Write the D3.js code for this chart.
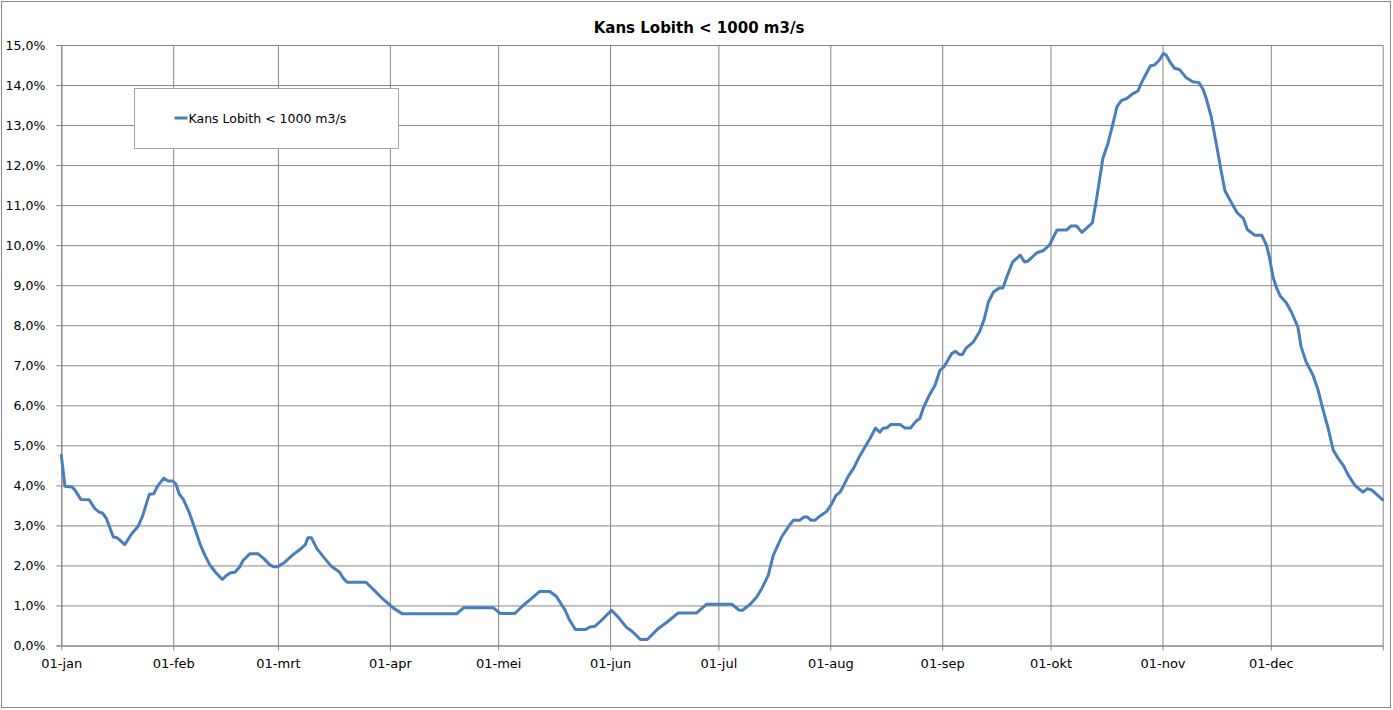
<!DOCTYPE html>
<html>
<head>
<meta charset="utf-8">
<script src="https://cdn.jsdelivr.net/npm/d3@7"></script>
<style>
  body { margin: 0; background: #fff; }
  text { font-family: "DejaVu Sans", sans-serif; fill: #000; }
</style>
</head>
<body>
<div id="chart"></div>
<script>
// Dag van het jaar (0 = 1 januari, schrikkeljaar) en kans in procent,
// afgelezen uit de grafiek.
const dagen = [
  0, 1, 3, 3.8, 5.4, 7.7, 9.3, 10.5, 11.4, 12.5, 14.4, 15.5, 17.6, 19.5, 21.3, 22.5,
  24.4, 25.6, 26.8, 28.4, 29.6, 30.8, 31.7, 32.7, 33.8, 35.4, 36.7, 38.4, 39.8, 41.1,
  42.7, 44.6, 45.8, 46.9, 48.1, 49.4, 50.4, 52.2, 54.5, 56.1, 57.7, 58.7, 60, 61.9,
  64.2, 66, 67.6, 68.3, 69.3, 70.8, 73, 74.8, 77.1, 78, 79.2, 84.4, 86.9, 89.2, 91.9,
  94.5, 109.5, 111.4, 119.7, 121.6, 125.6, 127.9, 130.2, 132.5, 135.3, 137.1, 139.5,
  140.8, 142.4, 145.3, 146.4, 147.8, 150.1, 152.4, 154.2, 156.5, 158.4, 160.4, 162.3,
  165.3, 168, 170.8, 175.9, 178.7, 185.7, 187.8, 188.7, 190.8, 192.6, 194, 195.8,
  197.2, 199.5, 201.8, 202.8, 204.6, 205.7, 206.6, 207.6, 208.8, 210.1, 212, 213.4,
  214.6, 215.7, 216.6, 218, 219.4, 221, 222.6, 224, 225.5, 226.7, 227.7, 228.6, 229.7,
  232.3, 233.7, 235.2, 236.7, 237.8, 238.7, 240.3, 242, 243.4, 244.5, 246.6, 247.7,
  248.7, 249.6, 250.6, 252.6, 254.3, 255.6, 256.8, 258.2, 259.8, 260.8, 261.9, 263.5,
  265.6, 266.8, 267.7, 270.2, 271.9, 273.7, 275.8, 278.5, 279.7, 281.2, 282.7, 285.6,
  286.7, 288.5, 289.9, 291.3, 292.4, 293.6, 295.2, 296.7, 298.2, 299.1, 300.3, 301.7,
  302.8, 304.2, 305.3, 306, 307.2, 308.3, 309.7, 311.6, 313.4, 315.1, 316.3, 317.1,
  318.5, 319.9, 321.2, 322.3, 324.1, 325.7, 327.4, 328.5, 330.5, 332.5, 333.8, 334.6,
  335.6, 336.5, 337.6, 339.3, 340.7, 342.5, 343.4, 344.8, 346.7, 348.1, 349.5, 350.9,
  352.3, 353.7, 355.1, 356.5, 358.3, 360.5, 361.8, 363, 366
];
const kans = [
  4.75, 3.98, 3.96, 3.88, 3.65, 3.64, 3.42, 3.33, 3.31, 3.17, 2.71, 2.69, 2.52, 2.79, 2.98, 3.23,
  3.78, 3.79, 4.0, 4.18, 4.11, 4.11, 4.04, 3.78, 3.65, 3.33, 3.0, 2.54, 2.25, 2.02,
  1.83, 1.65, 1.75, 1.82, 1.83, 1.96, 2.13, 2.29, 2.29, 2.17, 2.02, 1.97, 1.97, 2.08,
  2.27, 2.39, 2.52, 2.69, 2.69, 2.42, 2.17, 1.98, 1.83, 1.69, 1.58, 1.58, 1.36, 1.15, 0.94,
  0.79, 0.79, 0.94, 0.94, 0.8, 0.8, 1.0, 1.17, 1.35, 1.35, 1.23, 0.89,
  0.63, 0.4, 0.4, 0.46, 0.48, 0.67, 0.88, 0.71, 0.46, 0.33, 0.15, 0.15,
  0.42, 0.6, 0.81, 0.81, 1.03, 1.03, 0.88, 0.88, 1.03, 1.21, 1.42, 1.75,
  2.25, 2.71, 3.02, 3.13, 3.13, 3.21, 3.21, 3.13, 3.13, 3.23, 3.35, 3.54,
  3.75, 3.83, 3.98, 4.23, 4.42, 4.71, 4.96, 5.17, 5.43, 5.33, 5.43, 5.43, 5.52,
  5.52, 5.43, 5.43, 5.6, 5.67, 5.92, 6.23, 6.5, 6.88, 6.96, 7.29, 7.35,
  7.27, 7.27, 7.43, 7.58, 7.83, 8.14, 8.58, 8.83, 8.93, 8.93, 9.21, 9.58,
  9.75, 9.58, 9.6, 9.81, 9.86, 10.0, 10.38, 10.38, 10.48, 10.48, 10.32, 10.56,
  11.13, 12.17, 12.54, 13.04, 13.46, 13.61, 13.67, 13.78, 13.85, 14.04, 14.25, 14.48,
  14.5, 14.63, 14.79, 14.75, 14.56, 14.42, 14.39, 14.18, 14.08, 14.06, 13.88, 13.67,
  13.21, 12.54, 11.88, 11.36, 11.06, 10.81, 10.67, 10.39, 10.25, 10.25, 10.0, 9.71,
  9.21, 8.96, 8.73, 8.56, 8.33, 7.96, 7.46, 7.08, 6.75, 6.38, 5.88, 5.42,
  4.88, 4.67, 4.5, 4.25, 4.0, 3.83, 3.92, 3.88, 3.64
];
const maanden = ['jan', 'feb', 'mrt', 'apr', 'mei', 'jun', 'jul', 'aug', 'sep', 'okt', 'nov', 'dec'];
const yTicks = d3.range(0, 16);
const titel = 'Kans Lobith < 1000 m3/s';

const width = 1393;
const height = 710;
const margin = {top: 45, right: 10.3, bottom: 64.5, left: 61.3};

const start = new Date(Date.UTC(2020, 0, 1));
const einde = new Date(Date.UTC(2021, 0, 1));
const data = dagen.map((d, i) => ({date: new Date(start.getTime() + d * 864e5), v: kans[i]}));

const x = d3.scaleUtc().domain([start, einde]).range([margin.left, width - margin.right]);
const y = d3.scaleLinear().domain([0, 15]).range([height - margin.bottom, margin.top]);

const svg = d3.select('#chart').append('svg')
  .attr('width', width)
  .attr('height', height);

// chart border
svg.append('rect')
  .attr('x', 1.5).attr('y', 1.5)
  .attr('width', 1389).attr('height', 706)
  .attr('fill', '#fff')
  .attr('stroke', '#8a8a8a');

const gridColor = '#868686';
const monthStarts = d3.utcMonth.range(start, einde);

// horizontal grid
svg.append('g')
  .attr('transform', `translate(${margin.left},0)`)
  .call(d3.axisLeft(y).tickValues(yTicks).tickSize(-(width - margin.left - margin.right)).tickFormat(''))
  .call(g => g.select('.domain').remove())
  .call(g => g.selectAll('line').attr('stroke', gridColor));

// vertical grid (incl. rechterrand)
svg.append('g')
  .attr('transform', `translate(0,${height - margin.bottom})`)
  .call(d3.axisBottom(x).tickValues(monthStarts.concat([einde])).tickSize(-(height - margin.top - margin.bottom)).tickFormat(''))
  .call(g => g.select('.domain').remove())
  .call(g => g.selectAll('line').attr('stroke', gridColor));

// y axis
svg.append('g')
  .attr('transform', `translate(${margin.left},0)`)
  .call(d3.axisLeft(y).tickValues(yTicks).tickSize(5).tickPadding(11)
    .tickFormat(v => v.toFixed(1).replace('.', ',') + '%'))
  .call(g => g.selectAll('line, .domain').attr('stroke', gridColor))
  .call(g => g.selectAll('text').attr('font-size', 12.5).attr('font-family', '"DejaVu Sans", sans-serif'));

// x axis
svg.append('g')
  .attr('transform', `translate(0,${height - margin.bottom})`)
  .call(d3.axisBottom(x).tickValues(monthStarts.concat([einde])).tickSize(5).tickSizeOuter(0).tickPadding(8)
    .tickFormat(d => d.getTime() === einde.getTime() ? '' : '01-' + maanden[d.getUTCMonth()]))
  .call(g => g.selectAll('line, .domain').attr('stroke', gridColor))
  .call(g => g.selectAll('text').attr('font-size', 13).attr('font-family', '"DejaVu Sans", sans-serif'));

// line
const line = d3.line()
  .x(d => x(d.date))
  .y(d => y(d.v));

svg.append('path')
  .datum(data)
  .attr('fill', 'none')
  .attr('stroke', '#4a7ebb')
  .attr('stroke-width', 3)
  .attr('stroke-linejoin', 'round')
  .attr('stroke-linecap', 'round')
  .attr('d', line);

// title
svg.append('text')
  .attr('x', 699)
  .attr('y', 33)
  .attr('text-anchor', 'middle')
  .attr('font-size', 15)
  .attr('font-weight', 'bold')
  .text(titel);

// legend
const legend = svg.append('g').attr('transform', 'translate(134.5,88.5)');
legend.append('rect')
  .attr('width', 264).attr('height', 60)
  .attr('fill', '#fff')
  .attr('stroke', '#a6a6a6');
legend.append('line')
  .attr('x1', 40).attr('x2', 53)
  .attr('y1', 29.5).attr('y2', 29.5)
  .attr('stroke', '#4a7ebb')
  .attr('stroke-width', 3);
legend.append('text')
  .attr('x', 54)
  .attr('y', 34)
  .attr('font-size', 12.5)
  .text(titel);
</script>
</body>
</html>
